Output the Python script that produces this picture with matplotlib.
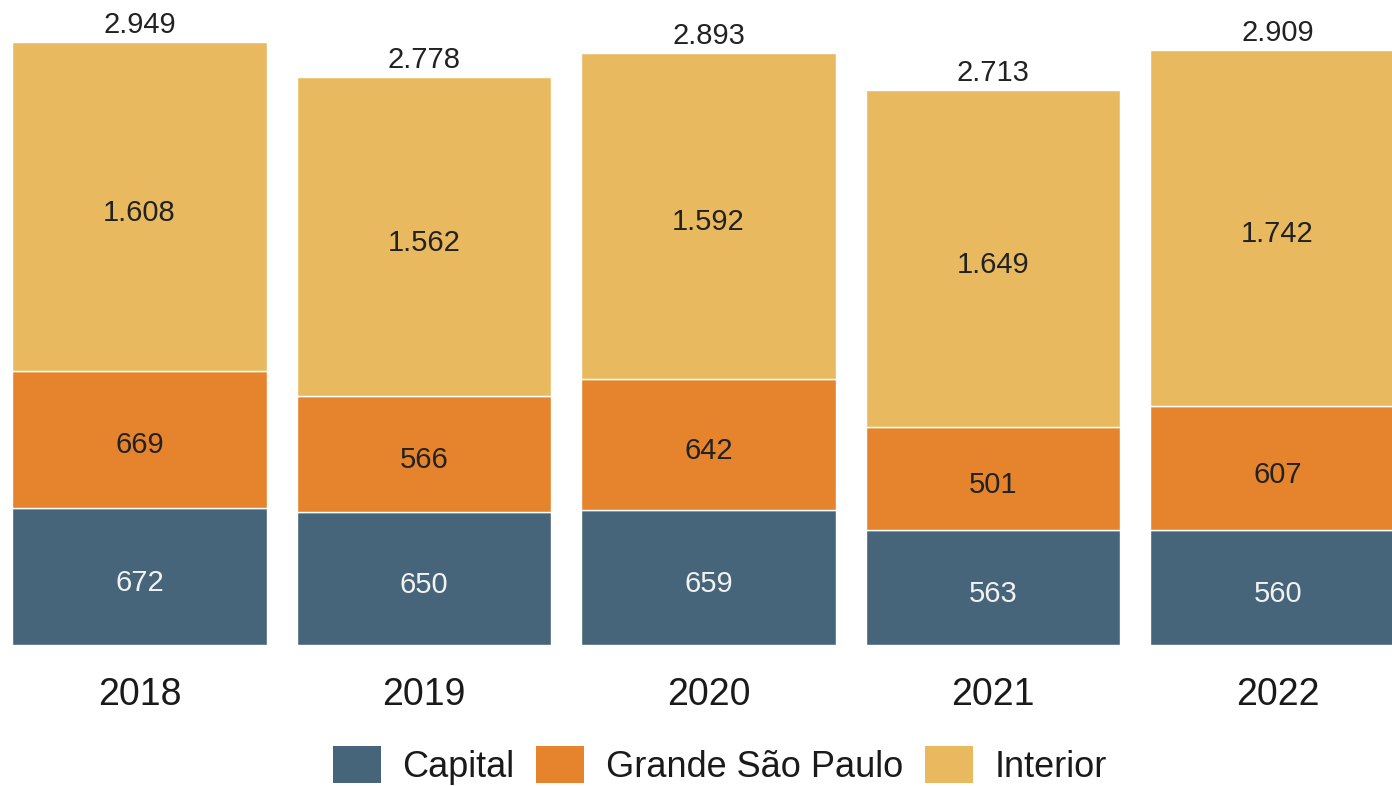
import matplotlib.pyplot as plt
import numpy as np
from matplotlib.patches import Patch

plt.rcParams['font.family'] = ['Liberation Sans', 'DejaVu Sans']

anos = ['2018', '2019', '2020', '2021', '2022']
capital = [672, 650, 659, 563, 560]
grande_sp = [669, 566, 642, 501, 607]
interior = [1608, 1562, 1592, 1649, 1742]

series = ['Capital', 'Grande São Paulo', 'Interior']
cores = ['#46657a', '#e6842d', '#e9b960']
cor_texto = ['#f2f2f2', '#222222', '#222222']


def fmt(v):
    # separador de milhar no padrão brasileiro
    return f'{v:,}'.replace(',', '.')


fig = plt.figure(figsize=(13.92, 7.86), dpi=100)
ax = fig.add_axes([0, 141 / 786, 1, 645 / 786])

x = np.arange(len(anos))
base = np.zeros(len(anos))
for vals, nome, cor, ct in zip([capital, grande_sp, interior], series, cores, cor_texto):
    vals = np.array(vals)
    ax.bar(x, vals, width=0.894, bottom=base, color=cor, edgecolor='white',
           linewidth=1, label=nome)
    for xi, b, v in zip(x, base, vals):
        ax.annotate(fmt(v), (xi, b + v / 2), xytext=(0, -4.5),
                    textcoords='offset points', ha='center', va='center',
                    fontsize=21, color=ct)
    base = base + vals

for xi, tot in zip(x, base):
    ax.annotate(fmt(int(tot)), (xi, tot), xytext=(0, 6.5),
                textcoords='offset points', ha='center', va='baseline',
                fontsize=21, color='#222222')

ax.set_xlim(-0.490, 4.402)
ax.set_ylim(0, 3154)
ax.set_xticks(x)
ax.set_xticklabels(anos, fontsize=27, color='#1a1a1a')
ax.tick_params(axis='x', length=0, pad=23)
ax.set_yticks([])
for s in ax.spines.values():
    s.set_visible(False)

handles = [Patch(facecolor=c, edgecolor='none') for c in cores]
fig.legend(handles, series, loc='upper center', bbox_to_anchor=(720 / 1392, 1 - 746 / 786),
           ncol=3, frameon=False, fontsize=26, handlelength=1.33, handleheight=1.2,
           handletextpad=0.6, columnspacing=0.6, borderpad=0, borderaxespad=0,
           labelcolor='#1a1a1a')

fig.savefig('out.png', dpi=100)
